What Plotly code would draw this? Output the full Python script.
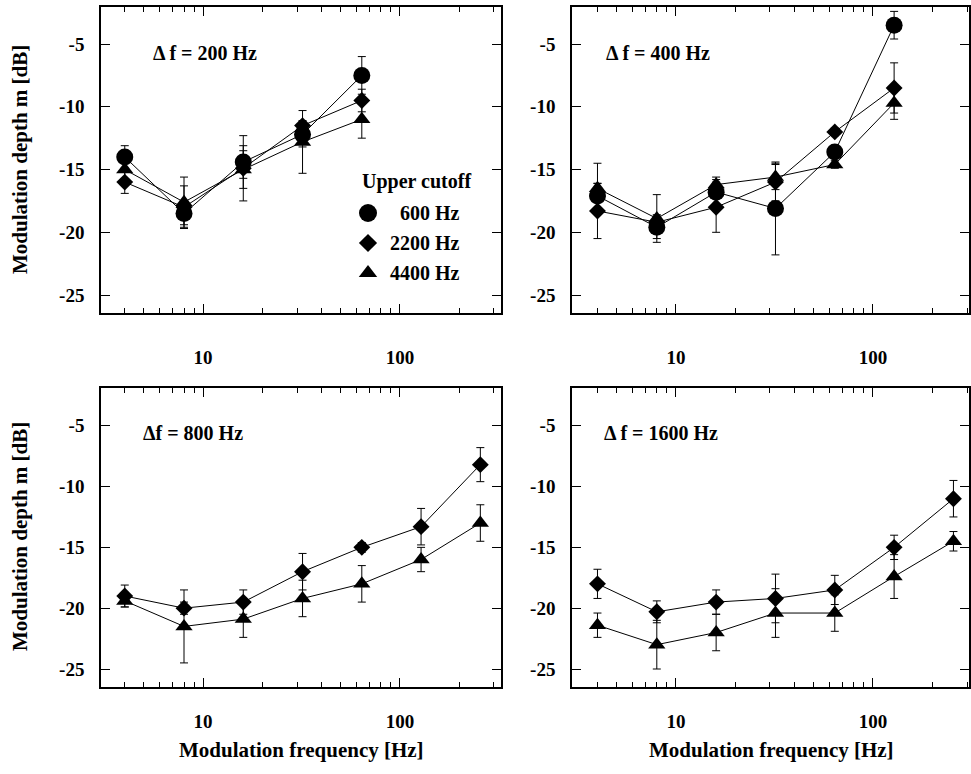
import plotly.graph_objects as go
import numpy as np

# ---------------- data ----------------
freqs = [4, 8, 16, 32, 64, 128, 256]

# Δf = 200 Hz
c200 = [-14.0, -18.5, -14.4, -12.2, -7.5]
c200_err = [0.9, 0.9, 1.3, 1.0, 1.5]
d200 = [-16.0, -18.0, -14.9, -11.5, -9.5]
d200_err = [0.9, 1.7, 2.6, 0.4, 0.9]
t200 = [-15.0, -17.6, -15.0, -12.8, -11.0]
t200_err = [1.0, 2.0, 1.5, 2.5, 1.5]

# Δf = 400 Hz
c400 = [-17.1, -19.6, -16.8, -18.1, -13.6, -3.5]
c400_err = [1.0, 0.9, 1.0, 3.7, 0.5, 1.1]
d400 = [-18.3, -19.2, -18.0, -16.0, -12.0, -8.5]
d400_err = [2.2, 0.6, 2.0, 1.5, 0.3, 2.0]
t400 = [-16.5, -18.9, -16.2, -15.6, -14.6, -9.7]
t400_err = [2.0, 1.9, 0.6, 1.0, 0.3, 1.3]

# Δf = 800 Hz
d800 = [-19.0, -20.0, -19.5, -17.0, -15.0, -13.3, -8.2]
d800_err = [0.9, 0.5, 1.0, 1.5, 0.4, 1.5, 1.4]
t800 = [-19.4, -21.5, -20.9, -19.2, -18.0, -16.0, -13.0]
t800_err = [0.5, 3.0, 1.5, 1.5, 1.5, 1.0, 1.5]

# Δf = 1600 Hz
d1600 = [-18.0, -20.3, -19.5, -19.2, -18.5, -15.0, -11.0]
d1600_err = [1.2, 0.9, 1.0, 2.0, 1.2, 1.0, 1.5]
t1600 = [-21.4, -23.0, -22.0, -20.4, -20.4, -17.4, -14.5]
t1600_err = [1.0, 2.0, 1.5, 2.0, 1.5, 1.8, 0.8]

panel_labels = ["\u0394 f = 200 Hz", "\u0394 f = 400 Hz", "\u0394f = 800 Hz", "\u0394 f = 1600 Hz"]
legend_title = "Upper cutoff"
legend_names = ["600 Hz", "2200 Hz", "4400 Hz"]
y_ticks = [-5, -10, -15, -20, -25]
x_ticks = [10, 100]
x_minor = [3, 4, 5, 6, 7, 8, 9, 20, 30, 40, 50, 60, 70, 80, 90, 200, 300]
y_title = "Modulation depth m [dB]"
x_title = "Modulation frequency [Hz]"

# ---------------- style ----------------
W, H = 971, 774
FONT = "Liberation Serif"
SYM = {"c": ("circle", 17), "d": ("diamond", 13), "t": ("triangle-up", 15)}

fig = go.Figure()

def px_x(p):
    return p / W

def px_y(p):
    return 1 - p / H

panels = [
    (1, [("c", c200, c200_err), ("d", d200, d200_err), ("t", t200, t200_err)]),
    (2, [("c", c400, c400_err), ("d", d400, d400_err), ("t", t400, t400_err)]),
    (3, [("d", d800, d800_err), ("t", t800, t800_err)]),
    (4, [("d", d1600, d1600_err), ("t", t1600, t1600_err)]),
]

for idx, series in panels:
    xa = "x" if idx == 1 else f"x{idx}"
    ya = "y" if idx == 1 else f"y{idx}"
    for key, vals, errs in series:
        sym, size = SYM[key]
        fig.add_trace(go.Scatter(
            x=freqs[:len(vals)], y=vals, xaxis=xa, yaxis=ya,
            mode="lines+markers",
            line=dict(color="black", width=1),
            marker=dict(symbol=sym, size=size, color="black"),
            error_y=dict(type="data", array=errs, visible=True,
                         color="black", thickness=1, width=4),
            showlegend=False, cliponaxis=False,
        ))

# domains (pixels)
xdom_left = [px_x(101), px_x(501)]
xdom_right = [px_x(572), px_x(969)]
ydom_top = [px_y(313), px_y(7)]
ydom_bot = [px_y(687), px_y(388)]

xr_left = [np.log10(3.03), np.log10(326)]
xr_right = [np.log10(2.97), np.log10(307)]
yr_top = [-26.43, -2.05]
yr_bot = [-26.48, -1.9]

tickfont = dict(family=FONT, size=19, color="black")

def xaxis_cfg(dom, rng, anchor, standoff):
    return dict(
        type="log", domain=dom, range=rng, anchor=anchor,
        tickvals=x_ticks, ticktext=[f"<b>{v}</b>" for v in x_ticks],
        ticks="inside", ticklen=9, tickwidth=1.2, tickcolor="black",
        minor=dict(tickvals=x_minor, ticks="inside", ticklen=5,
                   tickwidth=1.2, tickcolor="black", showgrid=False),
        showline=True, linecolor="black", linewidth=1.5, mirror="ticks",
        showgrid=False, zeroline=False, tickfont=tickfont,
        ticklabelstandoff=standoff,
    )

def yaxis_cfg(dom, rng, anchor):
    return dict(
        domain=dom, range=rng, anchor=anchor,
        tickvals=y_ticks, ticktext=[f"<b>{v}</b>" for v in y_ticks],
        ticks="inside", ticklen=9, tickwidth=1.2, tickcolor="black",
        showline=True, linecolor="black", linewidth=1.5, mirror="ticks",
        showgrid=False, zeroline=False, tickfont=tickfont,
        ticklabelstandoff=11,
    )

fig.update_layout(
    xaxis=xaxis_cfg(xdom_left, xr_left, "y", 26),
    yaxis=yaxis_cfg(ydom_top, yr_top, "x"),
    xaxis2=xaxis_cfg(xdom_right, xr_right, "y2", 26),
    yaxis2=yaxis_cfg(ydom_top, yr_top, "x2"),
    xaxis3=xaxis_cfg(xdom_left, xr_left, "y3", 16),
    yaxis3=yaxis_cfg(ydom_bot, yr_bot, "x3"),
    xaxis4=xaxis_cfg(xdom_right, xr_right, "y4", 16),
    yaxis4=yaxis_cfg(ydom_bot, yr_bot, "x4"),
    # overlay axis used for the hand-made legend markers (pixel units)
    xaxis5=dict(domain=[0, 1], range=[0, W], visible=False, fixedrange=True, anchor="y5"),
    yaxis5=dict(domain=[0, 1], range=[H, 0], visible=False, fixedrange=True, anchor="x5"),
    width=W, height=H,
    margin=dict(l=0, r=0, t=0, b=0),
    paper_bgcolor="white", plot_bgcolor="rgba(0,0,0,0)",
    showlegend=False,
)

# legend markers
leg_x = [368, 368, 368]
leg_y = [213, 243, 273]
for i, key in enumerate(["c", "d", "t"]):
    sym, size = SYM[key]
    fig.add_trace(go.Scatter(
        x=[leg_x[i]], y=[leg_y[i]], xaxis="x5", yaxis="y5", mode="markers",
        marker=dict(symbol=sym, size=size + 1, color="black"), showlegend=False,
        hoverinfo="skip",
    ))

annfont = dict(family=FONT, size=20, color="black")
ann = []
label_pos = [(151, 53), (604, 53), (141, 433), (602, 433)]
for txt, (lx, ly) in zip(panel_labels, label_pos):
    ann.append(dict(text=f"<b>{txt}</b>", x=px_x(lx), y=px_y(ly), xref="paper", yref="paper",
                    xanchor="left", yanchor="middle", showarrow=False, font=annfont))
ann.append(dict(text=f"<b>{legend_title}</b>", x=px_x(360), y=px_y(181), xref="paper", yref="paper",
                xanchor="left", yanchor="middle", showarrow=False, font=annfont))
for name, ly in zip(legend_names, leg_y):
    ann.append(dict(text=f"<b>{name}</b>", x=px_x(462), y=px_y(ly), xref="paper", yref="paper",
                    xanchor="right", yanchor="middle", showarrow=False, font=annfont))
titlefont = dict(family=FONT, size=21, color="black")
for cy in [160, 537]:
    ann.append(dict(text=f"<b>{y_title}</b>", x=px_x(20), y=px_y(cy), xref="paper", yref="paper",
                    xanchor="center", yanchor="middle", textangle=-90, showarrow=False,
                    font=titlefont))
for cx in [301, 771]:
    ann.append(dict(text=f"<b>{x_title}</b>", x=px_x(cx), y=px_y(750), xref="paper", yref="paper",
                    xanchor="center", yanchor="middle", showarrow=False, font=titlefont))
fig.update_layout(annotations=ann)

fig.write_html("out.html")
